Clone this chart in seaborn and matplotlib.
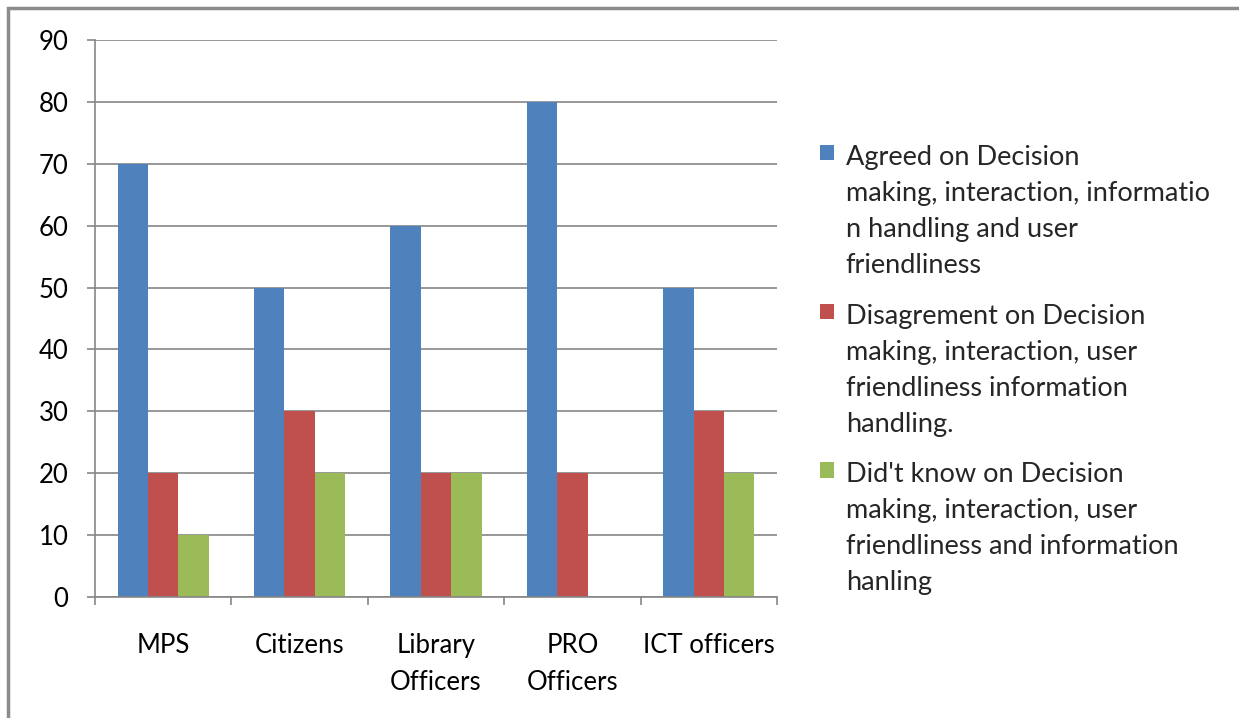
import matplotlib
matplotlib.use("Agg")
import matplotlib.pyplot as plt
import seaborn as sns
import pandas as pd
from matplotlib.patches import Rectangle

categories = ["MPS", "Citizens", "Library\nOfficers", "PRO\nOfficers", "ICT officers"]
series_names = [
    "Agreed on Decision\nmaking, interaction, informatio\nn handling and user\nfriendliness",
    "Disagrement on Decision\nmaking, interaction, user\nfriendliness information\nhandling.",
    "Did't know on Decision\nmaking, interaction, user\nfriendliness and information\nhanling",
]
agreed = [70, 50, 60, 80, 50]
disagreed = [20, 30, 20, 20, 30]
didnt_know = [10, 20, 20, 0, 20]
colors = ["#4F81BD", "#C0504D", "#9BBB59"]

rows = []
for name, vals in zip(series_names, [agreed, disagreed, didnt_know]):
    for c, v in zip(categories, vals):
        rows.append({"category": c, "series": name, "value": v})
df = pd.DataFrame(rows)

sns.set_theme(style="white")
plt.rcParams["font.family"] = ["Lato", "DejaVu Sans"]

W, H = 1239, 718
fig = plt.figure(figsize=(W / 100, H / 100), dpi=100)
ax = fig.add_axes([95 / W, 1 - 597 / H, (777 - 95) / W, (597 - 40) / H])

sns.barplot(data=df, x="category", y="value", hue="series", order=categories,
            hue_order=series_names, palette=colors, width=0.67, gap=0,
            saturation=1, edgecolor="none", linewidth=0, ax=ax, legend=False)

grey = "#868686"
ax.set_ylim(0, 90)
ax.set_xlim(-0.5, 4.5)
ax.set_yticks(range(0, 91, 10))
ax.yaxis.grid(True, color=grey, linewidth=1.2)
ax.set_axisbelow(True)
ax.set_xlabel("")
ax.set_ylabel("")
for s in ["top", "right"]:
    ax.spines[s].set_visible(False)
for s in ["left", "bottom"]:
    ax.spines[s].set_color(grey)
    ax.spines[s].set_linewidth(1.2)

ax.tick_params(axis="y", which="major", length=6, width=1.2, color=grey,
               direction="out", labelsize=18.5, pad=13, labelcolor="black", left=True)
ax.tick_params(axis="x", which="major", length=0, labelsize=18.5, pad=26, labelcolor="black")
ax.set_xticks(range(len(categories)))
ax.set_xticklabels(categories, linespacing=1.6)
ax.set_xticks([i - 0.5 for i in range(len(categories) + 1)], minor=True)
ax.tick_params(axis="x", which="minor", length=6, width=1.2, color=grey,
               direction="out", bottom=True)

handles = [Rectangle((0, 0), 1, 1, facecolor=c, edgecolor="none") for c in colors]
leg = fig.legend(handles, series_names, loc="upper left",
                 bbox_to_anchor=(820 / W, 1 - 145 / H), frameon=False,
                 handlelength=0.5, handleheight=0.5, handletextpad=0.45,
                 labelspacing=0.95, borderpad=0, borderaxespad=0,
                 prop={"family": ["Lato", "DejaVu Sans"], "size": 19.5})
for t in leg.get_texts():
    t.set_linespacing(1.55)
for col in leg._legend_handle_box.get_children():
    for item in col.get_children():
        item.align = "top"

border = Rectangle((8 / W, -0.1), 1.2, 1 - 8 / H + 0.1, transform=fig.transFigure,
                   fill=False, edgecolor="#8c8c8c", linewidth=2.5, clip_on=False)
fig.patches.append(border)

fig.savefig("out.png", dpi=100)
